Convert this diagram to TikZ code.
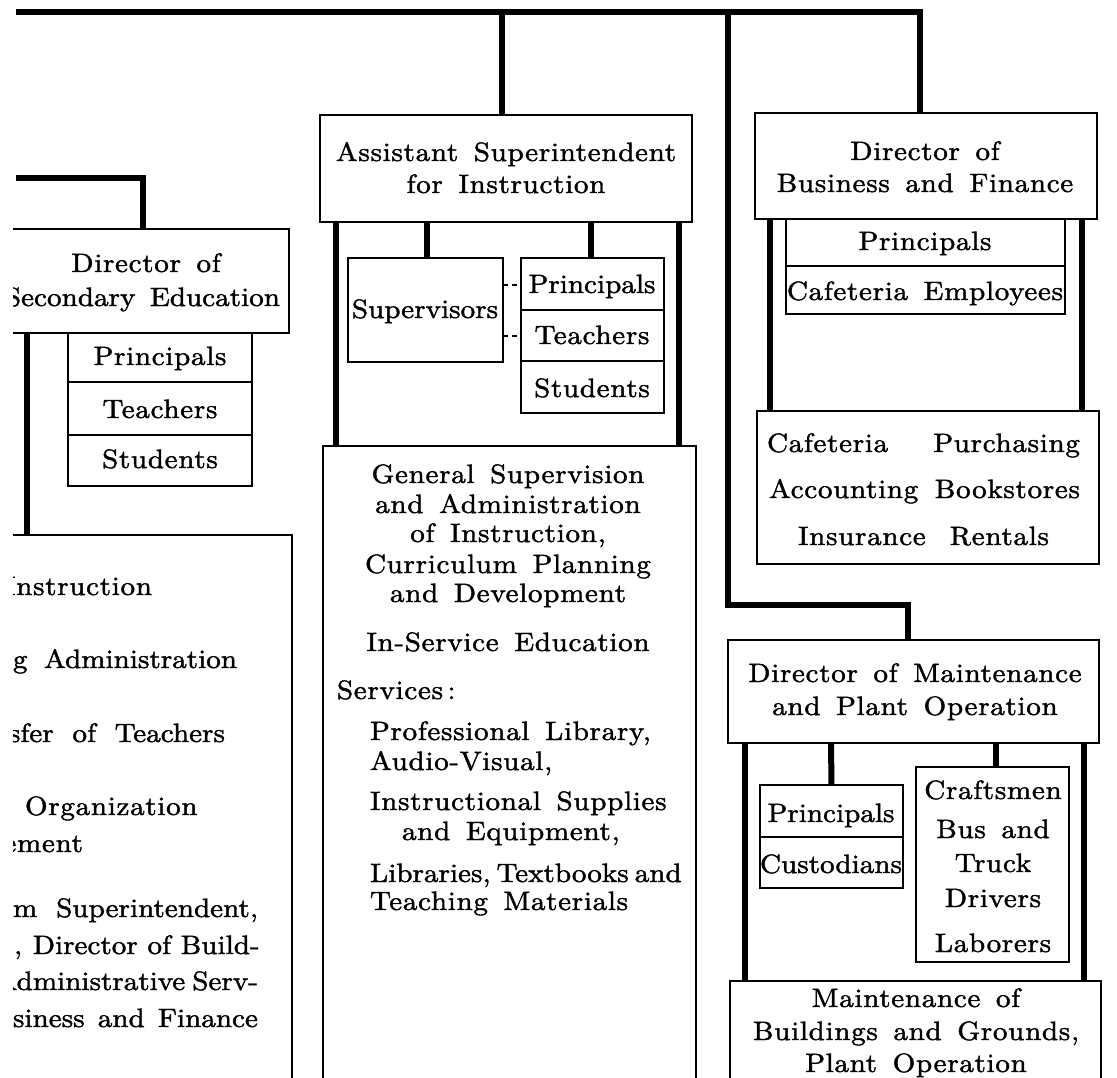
\documentclass[tikz,border=0pt]{standalone}
\usepackage{fontspec}
\setmainfont{lmroman10-regular.otf}[FakeStretch=1.1,LetterSpace=2.5,WordSpace=1.5,FakeBold=1.5]
\usetikzlibrary{calc}
\newcommand{\tightls}{\addfontfeature{LetterSpace=0}}
\begin{document}
\begin{tikzpicture}[x=1pt,y=-1pt,
  trunk/.style={line width=6pt},
  box/.style={draw, line width=1.5pt, inner sep=0pt, outer sep=0pt, anchor=north west},
  lbl/.style={inner sep=0pt, outer sep=0pt, anchor=base, font=\fontsize{26.5}{30}\selectfont},
  lblw/.style={lbl, anchor=base west},
  lble/.style={lbl, anchor=base east},
  dashlink/.style={line width=1.5pt, dash pattern=on 5pt off 4pt}]
\useasboundingbox (0,0) rectangle (1117,1078);
\fill[white] (0,0) rectangle (1117,1078);
\clip (13,0) rectangle (1117,1078);

% ---------- boxes ----------
% Assistant Superintendent
\node[box, minimum width=372pt, minimum height=107pt] (asst) at (320,115) {};
\node[box, minimum width=155pt, minimum height=104pt] (sup) at (348,258) {};
\node[box, minimum width=143pt, minimum height=52pt] (ap) at (521,258) {};
\node[box, minimum width=143pt, minimum height=51pt] (at) at (521,310) {};
\node[box, minimum width=143pt, minimum height=52pt] (as) at (521,361) {};
\node[box, minimum width=373pt, minimum height=660pt] (gen) at (323,446) {};
% Business and Finance
\node[box, minimum width=342pt, minimum height=106pt] (biz) at (755,113) {};
\node[box, minimum width=279pt, minimum height=47pt] (bp) at (786,219) {};
\node[box, minimum width=279pt, minimum height=48pt] (bc) at (786,266) {};
\node[box, minimum width=342pt, minimum height=153pt] (caf) at (757,411) {};
% Maintenance
\node[box, minimum width=371pt, minimum height=103pt] (mnt) at (728,640) {};
\node[box, minimum width=143pt, minimum height=52pt] (mp) at (760,785) {};
\node[box, minimum width=143pt, minimum height=51pt] (mc) at (760,837) {};
\node[box, minimum width=153pt, minimum height=195pt] (craft) at (916,767) {};
\node[box, minimum width=371pt, minimum height=130pt] (mob) at (730,981) {};
% Secondary Education
\node[box, minimum width=489pt, minimum height=104pt] (sec) at (-200,229) {};
\node[box, minimum width=184pt, minimum height=49pt] (sp) at (68,333) {};
\node[box, minimum width=184pt, minimum height=53pt] (st) at (68,382) {};
\node[box, minimum width=184pt, minimum height=51pt] (ss) at (68,435) {};
\node[box, minimum width=492pt, minimum height=580pt] (left) at (-200,535) {};

% ---------- trunk lines ----------
\coordinate (barL) at (16,12);
\draw[trunk] (barL) -| ([xshift=165pt]biz.north west);
\draw[trunk] ([xshift=182pt]asst.north west |- barL) -- ([xshift=182pt]asst.north west);
\draw[trunk] (728,12) |- (908,605) -- ([xshift=180pt]mnt.north west);
\coordinate (secL) at (16,178);
\draw[trunk] (secL) -| ([xshift=343pt]sec.north west);
\draw[trunk] ([xshift=227pt]sec.south west) -- ([xshift=227pt]left.north west);
% assistant
\draw[trunk] ([xshift=16pt]asst.south west) -- ([xshift=13pt]gen.north west);
\draw[trunk] ([xshift=-13pt]asst.south east) -- ([xshift=-17pt]gen.north east);
\draw[trunk] (427,222) -- (427,258);
\draw[trunk] (591,222) -- (591,258);
% business
\draw[trunk] (770,219) -- (770,411);
\draw[trunk] (1082,219) -- (1082,411);
% maintenance
\draw[trunk] (745,743) -- (745,981);
\draw[trunk] (1084,743) -- (1084,981);
\draw[trunk] (831,743) -- (mp.north);
\draw[trunk] (996,743) -- (996,767);
% dashed links
\draw[dashlink] (sup.east |- 0,285) -- (ap.west |- 0,285);
\draw[dashlink] (sup.east |- 0,336) -- (at.west |- 0,336);

% ---------- labels ----------
\node[lbl] (tA1) at (506,161) {Assistant Superintendent};
\node[lbl] (tA2) at (506,193) {for Instruction};
\node[lbl] (tSup) at (425,318) {\tightls Supervisors};
\node[lbl] (tAP) at (592,293) {\tightls Principals};
\node[lbl] (tAT) at (592,344) {Teachers};
\node[lbl] (tAS) at (592,397) {Students};

\node[lbl] (tB1) at (925,160) {Director of};
\node[lbl] (tB2) at (925,192) {Business and Finance};
\node[lbl] (tBP) at (925,250) {Principals};
\node[lbl] (tBC) at (925,300) {Cafeteria Employees};
\node[lblw] (tC1) at (767,452) {Cafeteria};
\node[lblw] (tC2) at (769,498) {Accounting};
\node[lblw] (tC3) at (798,545) {Insurance};
\node[lble] (tC4) at (1080,452) {Purchasing};
\node[lble] (tC5) at (1080,498) {Bookstores};
\node[lble] (tC6) at (1049,545) {Rentals};

\node[lbl] (tM1) at (915,682) {Director of Maintenance};
\node[lbl] (tM2) at (915,715) {and Plant Operation};
\node[lbl] (tMP) at (831,822) {\tightls Principals};
\node[lbl] (tMC) at (831,873) {\tightls Custodians};
\node[lbl] (tK1) at (993,799) {Craftsmen};
\node[lbl] (tK2) at (993,838) {Bus and};
\node[lbl] (tK3) at (993,872) {Truck};
\node[lbl] (tK4) at (993,907) {Drivers};
\node[lbl] (tK5) at (993,952) {Laborers};
\node[lbl] (tO1) at (916,1007) {Maintenance of};
\node[lbl] (tO2) at (916,1040) {Buildings and Grounds,};
\node[lbl] (tO3) at (916,1072) {Plant Operation};

\node[lbl] (tS1) at (146,272) {Director of};
\node[lble] (tS2) at (280,306) {\tightls Secondary Education};
\node[lbl] (tSP) at (160,365) {Principals};
\node[lbl] (tST) at (160,418) {Teachers};
\node[lbl] (tSS) at (160,468) {Students};

\node[lbl] (tG1) at (508,483) {General Supervision};
\node[lbl] (tG2) at (508,513) {and Administration};
\node[lbl] (tG3) at (508,542) {of Instruction,};
\node[lbl] (tG4) at (508,573) {Curriculum Planning};
\node[lbl] (tG5) at (508,602) {and Development};
\node[lbl] (tG6) at (508,651) {In-Service Education};
\node[lblw] (tG7) at (337,699) {Services\,:};
\node[lblw] (tG8) at (370,740) {Professional Library,};
\node[lblw] (tG9) at (370,770) {Audio-Visual,};
\node[lblw] (tG10) at (370,810) {Instructional Supplies};
\node[lblw] (tG11) at (402,840) {and Equipment,};
\node[lblw] (tG12) at (370,882) {\tightls Libraries,\hspace{6pt}Textbooks\hspace{6pt}and};
\node[lblw] (tG13) at (370,910) {Teaching Materials};

\node[lble] (tL1) at (152,595) {Instruction};
\node[lblw] (tL2) at (13,668) {\tightls\makebox[224pt][s]{g Administration}};
\node[lble] (tL3) at (225,742) {\tightls\makebox[216pt][s]{sfer of Teachers}};
\node[lblw] (tL4) at (25,815) {Organization};
\node[lble] (tL5) at (83,852) {ement};
\node[lblw] (tL6) at (13,917) {\tightls\makebox[245pt][s]{m Superintendent,}};
\node[lblw] (tL7) at (14,954) {\tightls\makebox[244pt][s]{, Director of Build-}};
\node[lble] (tL8) at (258,990) {\tightls Administrative\hspace{7pt}Serv-};
\node[lblw] (tL9) at (13,1027) {\tightls\makebox[245pt][s]{siness and Finance}};
\end{tikzpicture}
\end{document}
